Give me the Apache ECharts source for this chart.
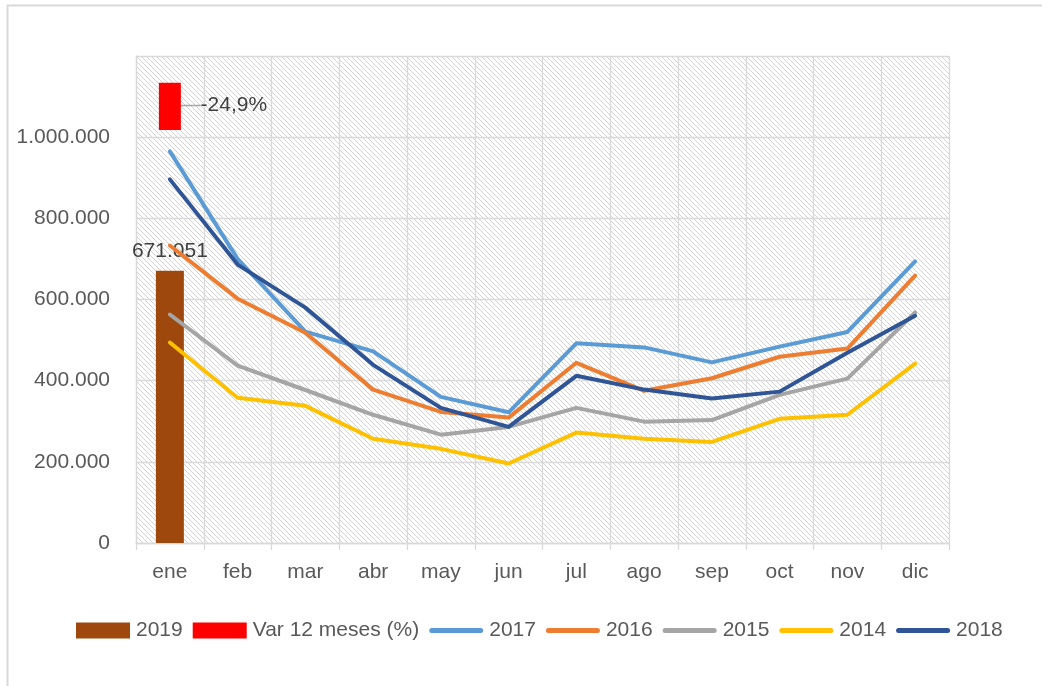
<!DOCTYPE html>
<html>
<head>
<meta charset="utf-8">
<script src="https://cdn.jsdelivr.net/npm/echarts@6/dist/echarts.min.js"></script>
<style>
html,body{margin:0;padding:0;background:#fff;}
#chart{width:1042px;height:686px;}
</style>
</head>
<body>
<div id="chart"></div>
<script>
const months = ['ene','feb','mar','abr','may','jun','jul','ago','sep','oct','nov','dic'];
const yTicks = [0, 200000, 400000, 600000, 800000, 1000000, 1200000];
const v2019 = [671051, null, null, null, null, null, null, null, null, null, null, null];
const var12 = [-0.249, null, null, null, null, null, null, null, null, null, null, null];
const v2017 = [965000, 700000, 521000, 472000, 360000, 322000, 492000, 482000, 445000, 484000, 520000, 694000];
const v2016 = [733000, 602000, 518000, 378000, 323000, 309000, 444000, 375000, 406000, 459000, 479000, 659000];
const v2015 = [563000, 437000, 377000, 316000, 267000, 286000, 333000, 299000, 303000, 365000, 405000, 568000];
const v2014 = [494000, 358000, 338000, 257000, 232000, 196000, 272000, 257000, 249000, 306000, 316000, 442000];
const v2018 = [896000, 686000, 580000, 439000, 333000, 286000, 412000, 378000, 356000, 373000, 469000, 560000];

function dots(v){ return String(Math.round(v)).replace(/\B(?=(\d{3})+(?!\d))/g,'.'); }

// hatch pattern
const pc = document.createElement('canvas');
pc.width = 5; pc.height = 5;
const px = pc.getContext('2d');
px.fillStyle = '#ffffff'; px.fillRect(0,0,5,5);
px.strokeStyle = '#d2d2d2'; px.lineWidth = 1;
px.beginPath();
px.moveTo(-1,-1); px.lineTo(6,6);
px.moveTo(-1,4); px.lineTo(1,6);
px.moveTo(4,-1); px.lineTo(6,1);
px.stroke();

const FONT = 'Liberation Sans';
const TXT = '#595959';
const GRIDC = '#d9d9d9';
const LINE_ICON = 'path://M0,0M54,16M2.5,5.5L51.5,5.5A2.5,2.5,0,0,1,51.5,10.5L2.5,10.5A2.5,2.5,0,0,1,2.5,5.5Z';

const chart = echarts.init(document.getElementById('chart'), null, {renderer:'canvas'});
function lineSeries(name, data, color){
  return {name, type:'line', data, xAxisIndex:0, yAxisIndex:0, showSymbol:false, symbol:'none',
    lineStyle:{color, width:4, cap:'round', join:'round'}, itemStyle:{color}, z:3};
}
chart.setOption({
  animation:false,
  backgroundColor:'#ffffff',
  textStyle:{fontFamily:FONT},
  graphic:[{type:'rect', shape:{x:7.5, y:5.5, width:1100, height:800}, style:{fill:null, stroke:'#d9d9d9', lineWidth:2}, silent:true, z:-10}],
  grid:[
    {left:136, right:93, top:56, bottom:143, show:true, backgroundColor:{image:pc, repeat:'repeat'}, borderWidth:0},
    {left:136, right:93, top:56, bottom:143, show:false}
  ],
  legend:{
    left:76, top:620, padding:0, itemGap:10, itemWidth:54, itemHeight:16,
    textStyle:{fontFamily:FONT, fontSize:21, color:TXT, padding:[0,0,0,1]},
    data:[
      {name:'2019', icon:'rect'},
      {name:'Var 12 meses (%)', icon:'rect'},
      {name:'2017', icon:LINE_ICON},
      {name:'2016', icon:LINE_ICON},
      {name:'2015', icon:LINE_ICON},
      {name:'2014', icon:LINE_ICON},
      {name:'2018', icon:LINE_ICON}
    ]
  },
  xAxis:[
    {type:'category', gridIndex:0, data:months, boundaryGap:true,
     axisLine:{show:true, lineStyle:{color:GRIDC, width:1.3}},
     axisTick:{show:true, length:7, lineStyle:{color:GRIDC, width:1.3}},
     axisLabel:{fontFamily:FONT, fontSize:21, color:TXT, margin:19},
     splitLine:{show:true, lineStyle:{color:GRIDC, width:1.3}}},
    {type:'category', gridIndex:1, data:months, show:false}
  ],
  yAxis:[
    {type:'value', gridIndex:0, min:yTicks[0], max:yTicks[yTicks.length-1], interval:yTicks[1]-yTicks[0],
     axisLine:{show:true, lineStyle:{color:GRIDC, width:1.3}},
     axisTick:{show:false},
     axisLabel:{fontFamily:FONT, fontSize:21, color:TXT, margin:26,
       formatter:v => v===yTicks[yTicks.length-1] ? '' : dots(v)},
     splitLine:{show:true, lineStyle:{color:GRIDC, width:1.3}}},
    {type:'value', gridIndex:1, min:-2.42, max:0.14, show:false, splitLine:{show:false}}
  ],
  series:[
    {name:'2019', type:'bar', data:v2019, xAxisIndex:0, yAxisIndex:0, barWidth:28,
     itemStyle:{color:'#9E480E'},
     label:{show:true, position:'top', distance:9, fontFamily:FONT, fontSize:21, color:'#404040',
       formatter:p => dots(p.value)}, z:2},
    {name:'Var 12 meses (%)', type:'bar', data:var12, xAxisIndex:1, yAxisIndex:1, barWidth:22,
     itemStyle:{color:'#FF0000'},
     label:{show:true, position:'insideBottom', distance:0, fontFamily:FONT, fontSize:21, color:'#404040',
       formatter:p => (p.value*100).toFixed(1).replace('.',',') + '%'},
     labelLayout:{dx:64, dy:-14},
     labelLine:{show:true, lineStyle:{color:'#a6a6a6', width:1.5}},
     z:2},
    lineSeries('2017', v2017, '#5B9BD5'),
    lineSeries('2016', v2016, '#ED7D31'),
    lineSeries('2015', v2015, '#A5A5A5'),
    lineSeries('2014', v2014, '#FFC000'),
    lineSeries('2018', v2018, '#2F5597')
  ]
});
</script>
</body>
</html>
